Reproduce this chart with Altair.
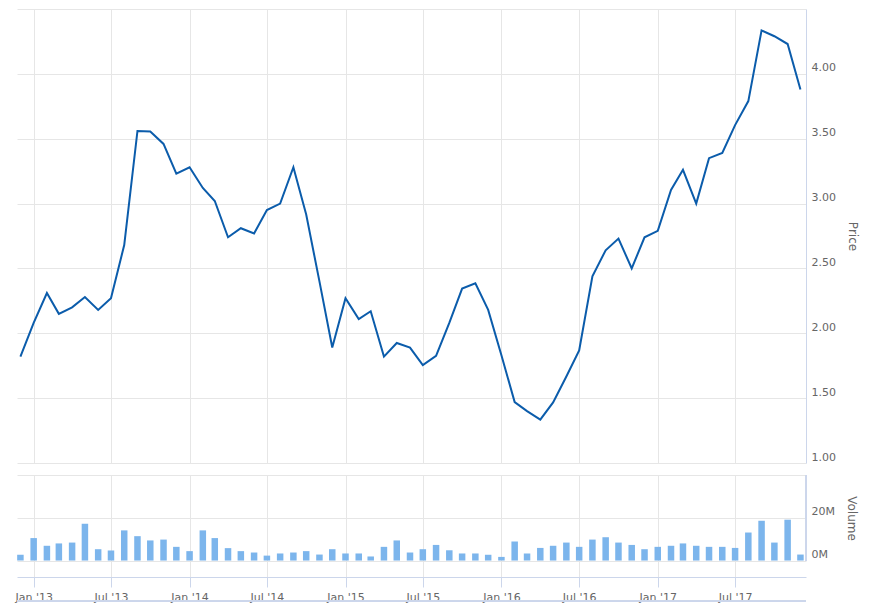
import altair as alt
import pandas as pd

# Monthly observations, Dec 2012 .. Dec 2017
months = pd.date_range("2012-12-01", periods=61, freq="MS").strftime("%Y-%m-%d").tolist()

price = [
    1.82,
    2.08, 2.31, 2.15, 2.20, 2.28, 2.18, 2.27, 2.68, 3.56, 3.555, 3.46, 3.23,
    3.28, 3.12, 3.02, 2.74, 2.81, 2.77, 2.95, 3.00, 3.28, 2.915, 2.40, 1.89,
    2.27, 2.11, 2.17, 1.82, 1.925, 1.89, 1.755, 1.826, 2.08, 2.345, 2.385, 2.18,
    1.83, 1.47, 1.40, 1.335, 1.467, 1.667, 1.867, 2.44, 2.64, 2.73, 2.50, 2.74,
    2.79, 3.105, 3.26, 3.00, 3.35, 3.39, 3.605, 3.79, 4.335, 4.29, 4.23, 3.88,
]

volume_m = [
    2.7,
    10.5, 6.9, 8.0, 8.4, 17.2, 5.3, 4.7, 14.1, 11.4, 9.4, 9.8, 6.4,
    4.4, 14.1, 10.5, 5.8, 4.4, 3.75, 2.3, 3.3, 3.75, 4.4, 2.8, 5.3,
    3.3, 3.3, 1.9, 6.4, 9.4, 3.75, 5.3, 7.3, 4.8, 3.3, 3.3, 2.7,
    1.7, 8.9, 3.3, 5.9, 6.9, 8.4, 6.4, 9.8, 10.9, 8.4, 7.3, 5.3,
    6.4, 6.9, 8.0, 6.9, 6.4, 6.4, 5.9, 13.1, 18.6, 8.4, 19.1, 2.8,
]

tick_dates = [(y, m) for y in range(2013, 2018) for m in (1, 7)]

df = pd.DataFrame({"date": months, "price": price, "volume": [v * 1e6 for v in volume_m]})

W = 789
label_color = "#666666"
axis_line = "#ccd6eb"
grid_color = "#e6e6e6"

x_scale = alt.Scale(
    type="utc",
    padding=0,
    domain=[alt.DateTime(year=2012, month=11, date=23, utc=True),
            alt.DateTime(year=2017, month=12, date=14, utc=True)],
)
x_values = [alt.DateTime(year=y, month=m, date=1, utc=True) for (y, m) in tick_dates]

x_top = alt.X("date:T", scale=x_scale, title=None,
              axis=alt.Axis(values=x_values, labels=False, ticks=False, domain=False,
                            grid=True, gridColor=grid_color))
x_bot = alt.X("date:T", scale=x_scale, title=None,
              axis=alt.Axis(values=x_values, format="%b '%y", grid=True, gridColor=grid_color,
                            domainColor=axis_line, tickColor=axis_line, tickSize=10,
                            labelColor=label_color, labelFontSize=11, labelPadding=4,
                            labelFlush=False))

price_chart = alt.Chart(df).mark_line(color="#0b5cab", strokeWidth=2).encode(
    x=x_top,
    y=alt.Y("price:Q", scale=alt.Scale(domain=[1.0, 4.5], nice=False, zero=False),
            axis=alt.Axis(orient="right", values=[1.0, 1.5, 2.0, 2.5, 3.0, 3.5, 4.0, 4.5],
                          format=".2f",
                          labelExpr="datum.value > 4.4 ? '' : datum.label",
                          ticks=False, tickSize=0, domainColor=axis_line,
                          gridColor=grid_color, labelColor=label_color, labelFontSize=11,
                          labelAlign="left", labelBaseline="middle", labelOffset=-6,
                          labelPadding=5, title="Price", titleColor=label_color,
                          titleFontSize=12, titleFontWeight="normal", titlePadding=10)),
).properties(width=W, height=454)

vol_base = alt.Chart(df)
vol_bars = vol_base.mark_bar(color="#7cb5ec", width=6.5).encode(
    x=x_bot,
    y=alt.Y("volume:Q", scale=alt.Scale(domain=[-7.7e6, 40e6], nice=False, zero=False),
            axis=alt.Axis(orient="right", values=[0, 20e6, 40e6],
                          labelExpr="datum.value == 0 ? '0M' : (datum.value == 20000000 ? '20M' : '')",
                          ticks=False, tickSize=0, domain=False,
                          gridColor=grid_color, labelColor=label_color, labelFontSize=11,
                          labelAlign="left", labelBaseline="middle", labelOffset=-6,
                          labelPadding=5, title="Volume", titleColor=label_color,
                          titleFontSize=12, titleFontWeight="normal", titlePadding=10,
                          titleY=43)),
    y2=alt.datum(0),
)
vol_axis_line = vol_base.mark_rule(color=axis_line, strokeWidth=1).encode(
    x=alt.value(W), y=alt.datum(40e6), y2=alt.datum(0)
)
nav_line = vol_base.mark_rule(color=axis_line, strokeWidth=1).encode(
    x=alt.value(0), x2=alt.value(W), y=alt.value(126)
)
vol_chart = alt.layer(vol_bars, vol_axis_line, nav_line).properties(width=W, height=102)

chart = alt.vconcat(price_chart, vol_chart, spacing=11).properties(
    padding={"left": 6, "top": 1, "right": 5, "bottom": 5}
).configure(font="DejaVu Sans").configure_view(stroke=None)

chart.save("out.html", embed_options={"renderer": "svg", "actions": False})
